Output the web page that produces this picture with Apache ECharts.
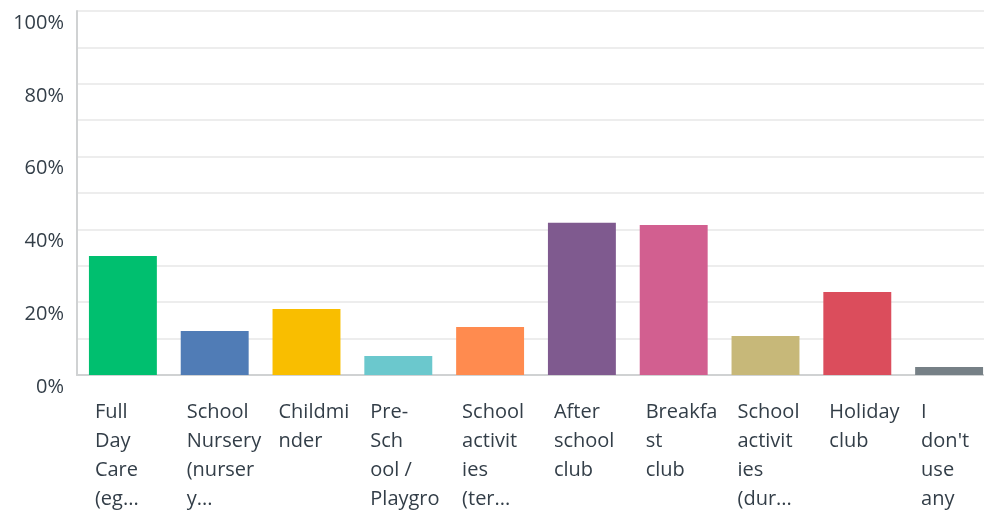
<!DOCTYPE html>
<html>
<head>
<meta charset="utf-8">
<script src="https://cdn.jsdelivr.net/npm/echarts@6/dist/echarts.min.js"></script>
<style>
  html, body { margin: 0; padding: 0; background: #fff; }
  #chart { width: 984px; height: 512px; }
</style>
</head>
<body>
<div id="chart"></div>
<script>
// answer options, as they are shown (already wrapped and cut off)
var categories = [
  ['Full', 'Day', 'Care', '(eg...'],
  ['School', 'Nursery', '(nurser', 'y...'],
  ['Childmi', 'nder'],
  ['Pre-', 'Sch', 'ool /', 'Playgro'],
  ['School', 'activit', 'ies', '(ter...'],
  ['After', 'school', 'club'],
  ['Breakfa', 'st', 'club'],
  ['School', 'activit', 'ies', '(dur...'],
  ['Holiday', 'club'],
  ['I', "don't", 'use', 'any']
]
// share of respondents, percent
var values = [32.7, 12.1, 18.1, 5.2, 13.2, 41.8, 41.2, 10.7, 22.8, 2.2]
var colors = ['#00bf6f', '#507cb6', '#f9be00', '#6bc8cd', '#ff8b4f',
  '#7f5a8f', '#d25f90', '#c7b879', '#db4d5c', '#768086']
var yTicks = [0, 20, 40, 60, 80, 100]

var chart = echarts.init(document.getElementById('chart'))
chart.setOption({
  animation: false,
  grid: {
    left: 77,
    top: 11,
    width: 918,
    height: 364,
    outerBoundsMode: 'none'
  },
  xAxis: {
    type: 'category',
    data: categories.map(function (c) { return c.join('\n') }),
    axisLine: { lineStyle: { color: '#d0d2d3', width: 2 } },
    axisTick: { show: false },
    axisLabel: {
      interval: 0,
      align: 'left',
      verticalAlign: 'top',
      margin: 23,
      padding: [0, 0, 0, -28],
      fontFamily: 'Open Sans',
      fontSize: 20,
      lineHeight: 29,
      color: '#333e48'
    }
  },
  yAxis: {
    type: 'value',
    min: 0,
    max: 100,
    interval: 10,
    axisLine: { show: true, lineStyle: { color: '#d0d2d3', width: 2 } },
    axisTick: { show: false },
    splitLine: { lineStyle: { color: '#ededed', width: 2 } },
    axisLabel: {
      margin: 13,
      verticalAlign: 'top',
      padding: [2, 0, 0, 0],
      fontFamily: 'Open Sans',
      fontSize: 20,
      color: '#333e48',
      formatter: function (v) {
        return yTicks.indexOf(v) >= 0 ? v + '%' : ''
      }
    }
  },
  series: [{
    type: 'bar',
    barCategoryGap: '26%',
    data: values.map(function (v, i) {
      return { value: v, itemStyle: { color: colors[i] } }
    })
  }]
})
</script>
</body>
</html>
